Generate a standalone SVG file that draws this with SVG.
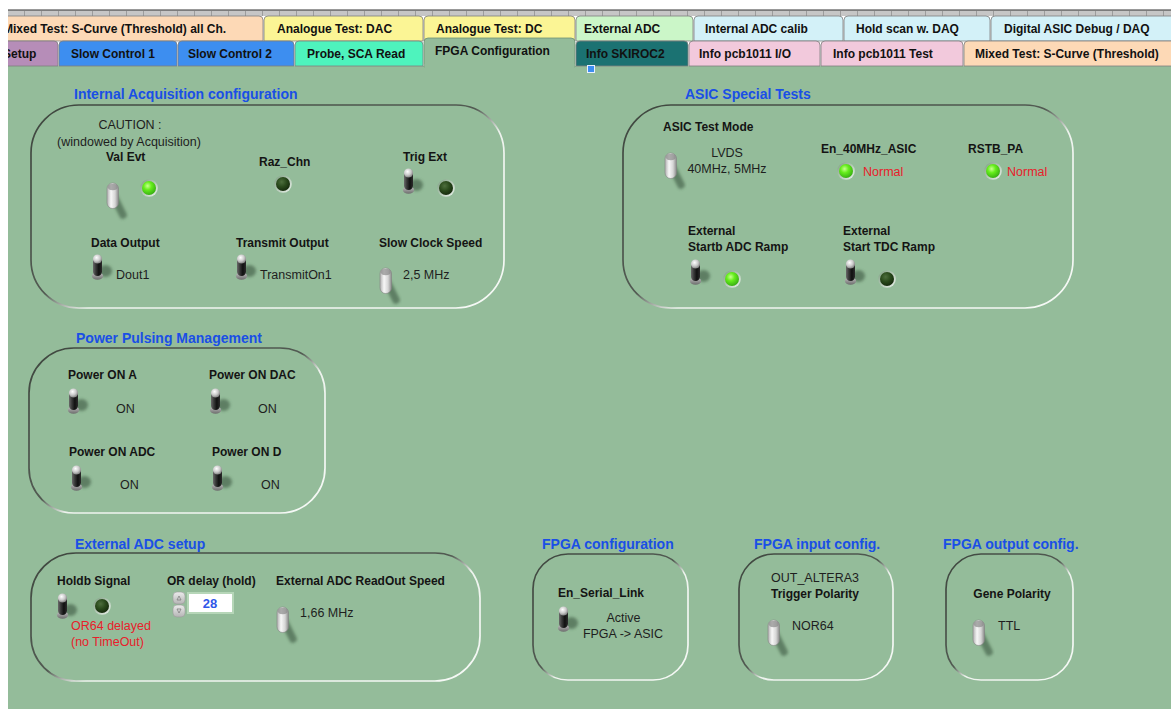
<svg xmlns="http://www.w3.org/2000/svg" width="1171" height="709" viewBox="0 0 1171 709">
<style>
.tab{font:bold 12px "Liberation Sans",Arial,sans-serif;fill:#111}
.ttl{font:bold 14px "Liberation Sans",Arial,sans-serif;fill:#1a4fe6}
.lbl{font:bold 12px "Liberation Sans",Arial,sans-serif;fill:#141414}
.txt{font:12.5px "Liberation Sans",Arial,sans-serif;fill:#1e1e1e}
.red{font:12.5px "Liberation Sans",Arial,sans-serif;fill:#e8202a}
.mid{text-anchor:middle}
.frame{fill:none;stroke:url(#frameG);stroke-width:1.7}
.tb{stroke:#7d7d7d;stroke-width:.8}
</style>
<defs>
<linearGradient id="frameG" x1="0" y1="0" x2="1" y2="1">
<stop offset="0" stop-color="#3f473f"/><stop offset=".48" stop-color="#525a52"/><stop offset=".56" stop-color="#eef3ee"/><stop offset="1" stop-color="#f6f9f6"/>
</linearGradient>
<linearGradient id="ledRing" x1="0" y1="0" x2="1" y2="1"><stop offset="0" stop-color="#7c9c80"/><stop offset="1" stop-color="#eef5ee"/></linearGradient>
<radialGradient id="gOn" cx=".4" cy=".35" r=".7"><stop offset="0" stop-color="#c8ff90"/><stop offset=".4" stop-color="#66ee1c"/><stop offset="1" stop-color="#34a812"/></radialGradient>
<radialGradient id="gOff" cx=".4" cy=".35" r=".7"><stop offset="0" stop-color="#4d6e3d"/><stop offset=".5" stop-color="#2a4a1c"/><stop offset="1" stop-color="#14270c"/></radialGradient>
<linearGradient id="bodyD" x1="0" y1="0" x2="1" y2="0"><stop offset="0" stop-color="#6a6a6a"/><stop offset=".3" stop-color="#3a3a3a"/><stop offset=".65" stop-color="#101010"/><stop offset="1" stop-color="#2c2c2c"/></linearGradient>
<radialGradient id="ballG" cx=".4" cy=".35" r=".7"><stop offset="0" stop-color="#fff"/><stop offset=".55" stop-color="#c8c8c8"/><stop offset="1" stop-color="#747474"/></radialGradient>
<linearGradient id="ringG" x1="0" y1="0" x2="0" y2="1"><stop offset="0" stop-color="#c4c4c4"/><stop offset="1" stop-color="#6c6c6c"/></linearGradient>
<linearGradient id="bodyW" x1="0" y1="0" x2="1" y2="0"><stop offset="0" stop-color="#b0b0b0"/><stop offset=".35" stop-color="#f7f7f7"/><stop offset=".7" stop-color="#d6d6d6"/><stop offset="1" stop-color="#8a8a8a"/></linearGradient>
<linearGradient id="btnG" x1="0" y1="0" x2="0" y2="1"><stop offset="0" stop-color="#ececec"/><stop offset="1" stop-color="#b4b4b4"/></linearGradient>
<filter id="blur" x="-60%" y="-60%" width="220%" height="220%"><feGaussianBlur stdDeviation="1.4"/></filter>
<pattern id="ticks" width="17" height="6" patternUnits="userSpaceOnUse" x="8" y="10"><rect width="17" height="6" fill="#c6c6c6"/><line x1="16.5" y1="1" x2="16.5" y2="6" stroke="#9c9c9c"/></pattern>
<clipPath id="tabClip"><rect x="8" y="0" width="1163" height="709"/></clipPath>
<g id="ledOn"><circle r="8.8" fill="url(#ledRing)"/><circle r="7" fill="url(#gOn)"/></g>
<g id="ledOff"><circle r="8.8" fill="url(#ledRing)"/><circle r="7" fill="url(#gOff)"/></g>
<g id="tgD">
<ellipse cx="13.5" cy="17" rx="6.5" ry="6" fill="#3b573f" opacity=".6" filter="url(#blur)"/>
<ellipse cx="5.5" cy="22" rx="5.6" ry="3.8" fill="url(#ringG)"/>
<rect x="1" y="3" width="9" height="19" rx="4.5" fill="url(#bodyD)"/>
<circle cx="5.5" cy="5" r="4.6" fill="url(#ballG)"/>
</g>
<g id="tgW">
<path d="M7,14 L16,32" stroke="#3b573f" stroke-width="7.5" stroke-linecap="round" opacity=".6" filter="url(#blur)"/>
<rect x="0" y="0" width="11.5" height="25.5" rx="5.7" fill="url(#bodyW)" stroke="#858585" stroke-width=".6"/>
<ellipse cx="5.75" cy="4" rx="4.8" ry="3.2" fill="#8a8a8a" opacity=".7"/>
</g>
</defs>

<rect width="1171" height="709" fill="#fff"/>
<rect id="panel" x="8" y="66" width="1163" height="643" fill="#94bc9a"/>

<g id="tabs" clip-path="url(#tabClip)">
<rect x="8" y="10" width="1163" height="6" fill="url(#ticks)"/>
<line x1="8" y1="10" x2="1171" y2="10" stroke="#333" stroke-width="1"/>
<g id="tab-mixed-all"><path class="tb" d="M0,41V20Q0,16 4,16H259Q263,16 263,20V41Z" fill="#fdd9b6"/><text class="tab" x="3" y="33">Mixed Test: S-Curve (Threshold) all Ch.</text></g>
<g id="tab-dac"><path class="tb" d="M264,41V20Q264,16 268,16H419Q423,16 423,20V41Z" fill="#fbf595"/><text class="tab" x="277" y="33">Analogue Test: DAC</text></g>
<g id="tab-dc"><path class="tb" d="M424,41V20Q424,16 428,16H571Q575,16 575,20V41Z" fill="#fbf595"/><text class="tab" x="436" y="33">Analogue Test: DC</text></g>
<g id="tab-extadc"><path class="tb" d="M576,41V20Q576,16 580,16H689Q693,16 693,20V41Z" fill="#cbf6c8"/><text class="tab" x="584" y="33">External ADC</text></g>
<g id="tab-intadc"><path class="tb" d="M694,41V20Q694,16 698,16H839Q843,16 843,20V41Z" fill="#d3f1f8"/><text class="tab" x="705" y="33">Internal ADC calib</text></g>
<g id="tab-hold"><path class="tb" d="M844,41V20Q844,16 848,16H986Q990,16 990,20V41Z" fill="#d3f1f8"/><text class="tab" x="856" y="33">Hold scan w. DAQ</text></g>
<g id="tab-digital"><path class="tb" d="M991,41V20Q991,16 995,16H1180V41Z" fill="#d3f1f8"/><text class="tab" x="1004" y="33">Digital ASIC Debug / DAQ</text></g>

<g id="tab-setup"><path class="tb" d="M0,66V45Q0,41 4,41H54Q58,41 58,45V66Z" fill="#b68db8"/><text class="tab" x="3" y="58">Setup</text></g>
<g id="tab-sc1"><path class="tb" d="M59,66V45Q59,41 63,41H173Q177,41 177,45V66Z" fill="#3d8ef0"/><text class="tab" x="71" y="58">Slow Control 1</text></g>
<g id="tab-sc2"><path class="tb" d="M178,66V45Q178,41 182,41H290Q294,41 294,45V66Z" fill="#3d8ef0"/><text class="tab" x="188" y="58">Slow Control 2</text></g>
<g id="tab-probe"><path class="tb" d="M295,66V45Q295,41 299,41H419Q423,41 423,45V66Z" fill="#4ef3bd"/><text class="tab" x="307" y="58">Probe, SCA Read</text></g>
<g id="tab-info-skiroc"><path class="tb" d="M576,66V45Q576,41 580,41H684Q688,41 688,45V66Z" fill="#1b7272"/><text class="tab" x="586" y="58">Info SKIROC2</text></g>
<g id="tab-info-io"><path class="tb" d="M689,66V45Q689,41 693,41H816Q820,41 820,45V66Z" fill="#f2c9dc"/><text class="tab" x="699" y="58">Info pcb1011 I/O</text></g>
<g id="tab-info-test"><path class="tb" d="M821,66V45Q821,41 825,41H959Q963,41 963,45V66Z" fill="#f2c9dc"/><text class="tab" x="833" y="58">Info pcb1011 Test</text></g>
<g id="tab-mixed"><path class="tb" d="M964,66V45Q964,41 968,41H1180V66Z" fill="#fdd9b6"/><text class="tab" x="975" y="58">Mixed Test: S-Curve (Threshold)</text></g>
<g id="tab-fpga-active"><path d="M424,67V42Q424,38 428,38H571Q575,38 575,42V67Z" fill="#94bc9a" stroke="#6f8f74" stroke-width=".8"/><rect x="424.5" y="64" width="150" height="4" fill="#94bc9a"/><text class="tab" x="435" y="55">FPGA Configuration</text></g>
<rect x="587.5" y="65.5" width="7" height="7" fill="#3d8ef0" stroke="#e8f0ff" stroke-width="1"/>
</g>

<g id="internal-acquisition">
<text class="ttl" x="74" y="99">Internal Acquisition configuration</text>
<rect class="frame" x="31" y="105" width="473" height="203" rx="48"/>
<text class="txt mid" x="130" y="128.5">CAUTION :</text>
<text class="txt mid" x="129" y="145.5">(windowed by Acquisition)</text>
<text class="lbl" x="106" y="161">Val Evt</text>
<use href="#tgW" x="107" y="183"/>
<use href="#ledOn" x="149" y="188"/>
<text class="lbl" x="259" y="166">Raz_Chn</text>
<use href="#ledOff" x="283" y="184"/>
<text class="lbl" x="403" y="161">Trig Ext</text>
<use href="#tgD" x="403" y="168"/>
<use href="#ledOff" x="446" y="188"/>
<text class="lbl" x="91" y="247">Data Output</text>
<use href="#tgD" x="92" y="254"/>
<text class="txt" x="116" y="278.5">Dout1</text>
<text class="lbl" x="236" y="247">Transmit Output</text>
<use href="#tgD" x="236" y="254"/>
<text class="txt" x="260" y="278.5">TransmitOn1</text>
<text class="lbl" x="379" y="247">Slow Clock Speed</text>
<use href="#tgW" x="380" y="268"/>
<text class="txt" x="403" y="278.5">2,5 MHz</text>
</g>

<g id="asic-special-tests">
<text class="ttl" x="685" y="99">ASIC Special Tests</text>
<rect class="frame" x="623" y="105" width="450" height="203" rx="48"/>
<text class="lbl" x="663" y="131">ASIC Test Mode</text>
<use href="#tgW" x="665" y="153"/>
<text class="txt mid" x="727" y="156.5">LVDS</text>
<text class="txt mid" x="727" y="172.5">40MHz, 5MHz</text>
<text class="lbl" x="821" y="153">En_40MHz_ASIC</text>
<use href="#ledOn" x="846" y="171"/>
<text class="red" x="863" y="175.5">Normal</text>
<text class="lbl" x="968" y="153">RSTB_PA</text>
<use href="#ledOn" x="993" y="171"/>
<text class="red" x="1007" y="175.5">Normal</text>
<text class="lbl" x="688" y="235">External</text>
<text class="lbl" x="688" y="251">Startb ADC Ramp</text>
<use href="#tgD" x="690" y="259"/>
<use href="#ledOn" x="732" y="279"/>
<text class="lbl" x="843" y="235">External</text>
<text class="lbl" x="843" y="251">Start TDC Ramp</text>
<use href="#tgD" x="845" y="259"/>
<use href="#ledOff" x="887" y="279"/>
</g>

<g id="power-pulsing">
<text class="ttl" x="76" y="343">Power Pulsing Management</text>
<rect class="frame" x="29" y="348" width="296" height="165" rx="45"/>
<text class="lbl" x="68" y="379">Power ON A</text>
<use href="#tgD" x="68" y="388"/>
<text class="txt" x="116" y="412.5">ON</text>
<text class="lbl" x="209" y="379">Power ON DAC</text>
<use href="#tgD" x="210" y="388"/>
<text class="txt" x="258" y="412.5">ON</text>
<text class="lbl" x="69" y="456">Power ON ADC</text>
<use href="#tgD" x="71" y="465"/>
<text class="txt" x="120" y="488.5">ON</text>
<text class="lbl" x="212" y="456">Power ON D</text>
<use href="#tgD" x="212" y="465"/>
<text class="txt" x="261" y="488.5">ON</text>
</g>

<g id="external-adc-setup">
<text class="ttl" x="75" y="549">External ADC setup</text>
<rect class="frame" x="31" y="553" width="449" height="128" rx="45"/>
<text class="lbl" x="57" y="585">Holdb Signal</text>
<use href="#tgD" x="57" y="593"/>
<use href="#ledOff" x="102" y="606"/>
<text class="red" x="71" y="629.5">OR64 delayed</text>
<text class="red" x="71" y="645.5">(no TimeOut)</text>
<text class="lbl" x="167" y="585">OR delay (hold)</text>
<rect x="173" y="592" width="12" height="12" rx="4" fill="url(#btnG)" stroke="#9a9a9a" stroke-width=".6"/>
<rect x="173" y="605" width="12" height="12" rx="4" fill="url(#btnG)" stroke="#9a9a9a" stroke-width=".6"/>
<path d="M177,600 L179,596 L181,600Z" fill="none" stroke="#777" stroke-width=".7"/>
<path d="M177,609 L179,613 L181,609Z" fill="none" stroke="#777" stroke-width=".7"/>
<rect x="188" y="593" width="45" height="20" fill="#fff" stroke="#b6d6b8" stroke-width="2"/>
<text class="lbl mid" x="210" y="607.5" style="fill:#2f57e8;font-size:13px">28</text>
<text class="lbl" x="276" y="585">External ADC ReadOut Speed</text>
<use href="#tgW" x="277" y="607"/>
<text class="txt" x="300" y="617">1,66 MHz</text>
</g>

<g id="fpga-configuration">
<text class="ttl" x="542" y="549">FPGA configuration</text>
<rect class="frame" x="533" y="554" width="155" height="126" rx="35"/>
<text class="lbl" x="558" y="597">En_Serial_Link</text>
<use href="#tgD" x="558" y="606"/>
<text class="txt mid" x="623.5" y="621.5">Active</text>
<text class="txt mid" x="623" y="637.5">FPGA -&gt; ASIC</text>
</g>

<g id="fpga-input-config">
<text class="ttl" x="754" y="549">FPGA input config.</text>
<rect class="frame" x="739" y="554" width="154" height="126" rx="35"/>
<text class="txt mid" x="815" y="582">OUT_ALTERA3</text>
<text class="lbl mid" x="815" y="598">Trigger Polarity</text>
<use href="#tgW" x="768" y="620"/>
<text class="txt" x="792" y="630">NOR64</text>
</g>

<g id="fpga-output-config">
<text class="ttl" x="943" y="549">FPGA output config.</text>
<rect class="frame" x="946" y="554" width="127" height="126" rx="35"/>
<text class="lbl mid" x="1012" y="598">Gene Polarity</text>
<use href="#tgW" x="973" y="620"/>
<text class="txt" x="998" y="630">TTL</text>
</g>
</svg>
